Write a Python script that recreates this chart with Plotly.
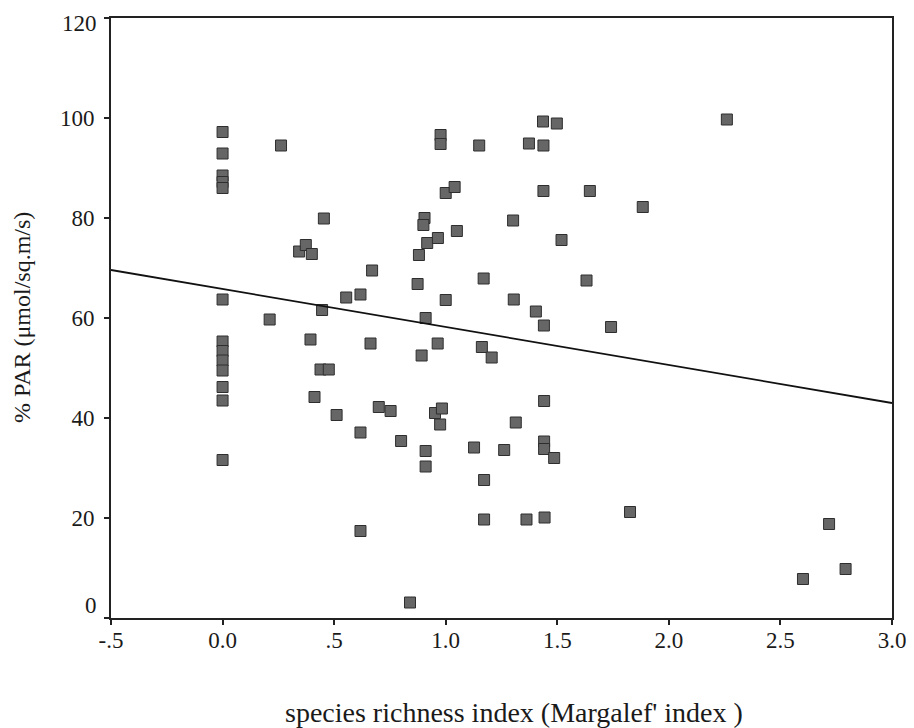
import plotly.graph_objects as go
import numpy as np

# Margalef species richness index (x) and % PAR (y)
richness = [0.0, 0.0, 0.0, 0.0, 0.0, 0.0, 0.0, 0.0, 0.0, 0.0, 0.0, 0.0, 0.0,
            0.211, 0.262, 0.343, 0.373, 0.400, 0.394, 0.412, 0.446, 0.454, 0.439, 0.476,
            0.511, 0.554, 0.618, 0.618, 0.618, 0.663, 0.670, 0.700, 0.753, 0.800, 0.840,
            0.874, 0.880, 0.892, 0.905, 0.900, 0.910, 0.910, 0.910, 0.917, 0.965, 0.964,
            0.952, 0.983, 0.975, 0.977, 0.977, 1.000, 1.040, 1.050, 1.000,
            1.150, 1.170, 1.162, 1.206, 1.127, 1.262, 1.172, 1.172,
            1.302, 1.305, 1.314, 1.362, 1.373, 1.404, 1.436, 1.498, 1.438, 1.438,
            1.440, 1.441, 1.441, 1.441, 1.443, 1.486, 1.519, 1.631, 1.646, 1.741,
            1.826, 1.883, 2.260, 2.601, 2.718, 2.792]
par_pct = [97.2, 92.9, 88.5, 87.2, 86.0, 63.7, 55.3, 53.4, 51.5, 49.5, 46.2, 43.5, 31.6,
           59.7, 94.5, 73.3, 74.6, 72.8, 55.7, 44.2, 61.6, 79.9, 49.7, 49.7,
           40.6, 64.1, 64.7, 37.1, 17.4, 54.9, 69.5, 42.2, 41.4, 35.4, 3.1,
           66.8, 72.6, 52.5, 80.0, 78.6, 60.0, 33.4, 30.3, 75.0, 76.0, 54.9,
           41.0, 41.9, 38.7, 96.6, 94.8, 85.0, 86.2, 77.4, 63.6,
           94.5, 67.9, 54.2, 52.1, 34.1, 33.6, 27.6, 19.7,
           79.5, 63.7, 39.1, 19.7, 94.9, 61.3, 99.3, 98.9, 94.5, 85.4,
           58.5, 43.4, 35.3, 33.8, 20.1, 32.0, 75.6, 67.5, 85.4, 58.2,
           21.2, 82.2, 99.7, 7.8, 18.8, 9.8]

# regression line parameters
reg_intercept = 65.8
reg_slope = -7.6
x_range = [-0.5, 3.0]
y_range = [0, 120]

x_tickvals = [-0.5, 0.0, 0.5, 1.0, 1.5, 2.0, 2.5, 3.0]
x_ticktext = ["-.5", "0.0", ".5", "1.0", "1.5", "2.0", "2.5", "3.0"]
y_tickvals = [0, 20, 40, 60, 80, 100, 120]
y_ticktext = ["", "20", "40", "60", "80", "100", ""]
# edge labels drawn separately: (value, text, vertical shift in px)
y_edge_labels = [(0, "0", 13), (120, "120", -5)]

x_title = "species richness index (Margalef' index )"
y_title = "% PAR (μmol/sq.m/s)"

FONT = "Liberation Serif, Times New Roman, serif"
TICK_SIZE = 23
INK = "#1a1a1a"

fig = go.Figure()
fig.add_trace(go.Scatter(
    x=richness, y=par_pct, mode="markers",
    marker=dict(symbol="square", size=11, color="#666666",
                line=dict(color="#2e2e2e", width=1)),
    showlegend=False, hoverinfo="x+y"))

line_x = np.array(x_range)
fig.add_trace(go.Scatter(
    x=line_x, y=reg_intercept + reg_slope * line_x, mode="lines",
    line=dict(color="#111111", width=1.8), showlegend=False, hoverinfo="skip"))

axis_common = dict(showgrid=False, zeroline=False, ticks="outside", ticklen=5,
                   tickwidth=1.5, tickcolor="#222", automargin=False,
                   ticklabeloverflow="allow",
                   showline=True, linecolor="#222", linewidth=2, mirror=True,
                   tickfont=dict(family=FONT, size=TICK_SIZE, color=INK))

# the page body adds an 8px margin, so the figure is 8px smaller than the window
fig.update_layout(
    width=906, height=720,
    margin=dict(l=103, r=22, t=10, b=110),
    paper_bgcolor="white", plot_bgcolor="white",
    font=dict(family=FONT, size=TICK_SIZE, color=INK),
    xaxis=dict(range=x_range, tickvals=x_tickvals, ticktext=x_ticktext,
               ticklabelstandoff=-5, **axis_common),
    yaxis=dict(range=y_range, tickvals=y_tickvals, ticktext=y_ticktext,
               ticklabelstandoff=5, **axis_common),
)
for val, txt, shift in y_edge_labels:
    fig.add_annotation(x=0, xref="paper", y=val, yref="y", text=txt, showarrow=False,
                       xanchor="right", yanchor="middle", xshift=-12, yshift=shift,
                       font=dict(family=FONT, size=TICK_SIZE, color=INK))
# axis titles
fig.add_annotation(x=0.516, xref="paper", y=0, yref="paper", text=x_title,
                   showarrow=False, xanchor="center", yanchor="middle", yshift=-94,
                   font=dict(family=FONT, size=28, color=INK))
fig.add_annotation(x=0, xref="paper", y=0.5, yref="paper", text=y_title,
                   showarrow=False, xanchor="center", yanchor="middle", xshift=-89,
                   textangle=-90, font=dict(family=FONT, size=24, color=INK))

fig.write_html("out.html")
